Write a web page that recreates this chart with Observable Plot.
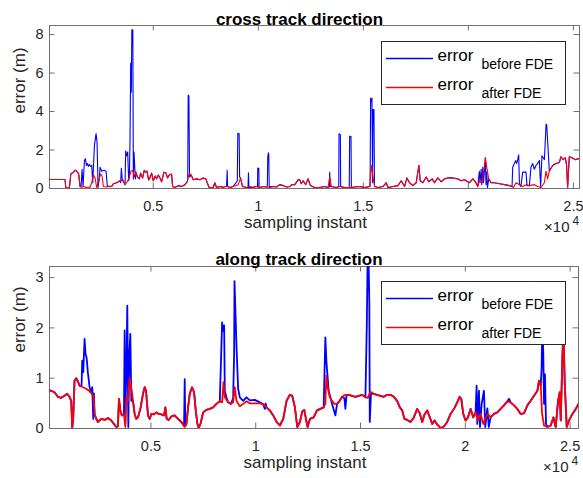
<!DOCTYPE html>
<html><head><meta charset="utf-8">
<script src="https://cdn.jsdelivr.net/npm/d3@7"></script>
<script src="https://cdn.jsdelivr.net/npm/@observablehq/plot@0.6"></script>
<style>
body{margin:0;background:#fff;}
#wrap{position:relative;width:583px;height:478px;overflow:hidden;font-family:"Liberation Sans",Arial,sans-serif;}
.pane{position:absolute;left:0;}
.legend{position:absolute;left:381px;}
</style></head><body><div id="wrap"></div>
<script>
// ---- data (sample index, error in m) ----
const crossAfter = [[60,0.47],[800,0.47],[835,0.05],[1010,0.05],[1075,0.75],[1200,0.85],[1295,0.95],[1390,0.85],[1450,0.75],[1516,0.1],[1600,0.06],[1700,0.1],[1800,0.05],[1900,0.08],[1991,0.06],[2070,0.3],[2150,0.7],[2230,0.55],[2308,0.05],[2435,0.55],[2500,0.75],[2560,0.65],[2625,0.1],[2784,0.08],[2900,0.12],[3020,0.1],[3100,0.25],[3259,0.3],[3417,0.4],[3544,0.45],[3655,0.2],[3766,0.35],[3861,0.6],[3940,0.9],[4019,0.95],[4098,0.6],[4177,0.85],[4240,0.6],[4335,0.5],[4399,0.8],[4494,0.55],[4573,0.95],[4637,0.85],[4700,0.9],[4779,0.45],[4843,0.55],[4922,0.8],[5001,0.4],[5096,0.65],[5159,0.5],[5238,0.7],[5318,0.55],[5397,0.35],[5508,0.85],[5603,0.8],[5682,0.55],[5761,0.7],[5872,0.75],[5919,0.1],[6030,0.05],[6189,0.15],[6347,0.1],[6506,0.2],[6617,0.35],[6712,0.8],[6807,0.7],[6902,0.45],[7060,0.5],[7219,0.45],[7377,0.55],[7504,0.5],[7567,0.3],[7662,0.05],[7852,0.05],[7931,0.3],[8010,0.05],[8170,0.1],[8330,0.06],[8490,0.12],[8646,0.05],[8804,0.1],[9042,0.2],[9153,0.55],[9248,0.1],[9438,0.05],[9600,0.1],[9755,0.06],[9900,0.1],[10072,0.05],[10230,0.1],[10389,0.08],[10550,0.05],[10706,0.1],[10870,0.08],[11023,0.2],[11181,0.15],[11340,0.08],[11498,0.1],[11600,0.2],[11736,0.2],[11894,0.45],[11973,0.45],[12050,0.25],[12132,0.4],[12258,0.2],[12369,0.5],[12480,0.15],[12686,0.05],[12924,0.05],[13161,0.1],[13320,0.05],[13399,0.6],[13478,0.1],[13716,0.05],[13874,0.1],[14112,0.05],[14349,0.05],[14587,0.08],[14824,0.1],[15060,0.05],[15300,0.1],[15395,1.2],[15458,0.6],[15537,0.1],[15696,0.05],[15933,0.1],[16092,0.3],[16171,0.05],[16408,0.1],[16646,0.15],[16804,0.4],[16963,0.1],[17074,0.55],[17200,0.3],[17359,0.15],[17517,0.3],[17644,1.2],[17707,0.4],[17834,0.3],[17992,0.6],[18119,0.35],[18277,0.5],[18388,0.3],[18547,0.55],[18705,0.35],[18864,0.5],[19022,0.55],[19260,0.55],[19497,0.5],[19656,0.4],[19814,0.45],[20052,0.3],[20210,0.5],[20337,0.35],[20448,0.1],[20559,0.5],[20654,0.3],[20811,1.6],[20875,1.1],[20970,0.5],[21081,0.3],[21240,0.3],[21478,0.25],[21715,0.2],[21953,0.15],[22142,0.05],[22269,0.3],[22428,0.2],[22586,0.1],[22744,0.2],[22903,0.15],[23140,0.2],[23299,0.1],[23457,0.05],[23616,0.3],[23695,0.9],[23774,0.5],[23853,0.9],[24012,1.2],[24170,1.3],[24328,1.35],[24408,1.65],[24519,1.5],[24614,1.6],[24677,1.2],[24725,0.05],[24804,1.65],[24930,1.6],[25090,1.5],[25250,1.55]];

const crossBefore = [[60,0.47],[800,0.47],[835,0.05],[1010,0.05],[1075,0.75],[1200,0.85],[1295,0.95],[1390,0.85],[1450,0.75],[1516,0.1],[1563,0.1],[1611,1.0],[1658,0.1],[1722,1.45],[1769,1.55],[1817,1.2],[1864,1.3],[1912,1.15],[1959,1.25],[2007,1.15],[2070,1.2],[2118,0.3],[2197,2.2],[2276,2.85],[2324,2.4],[2371,0.05],[2435,0.55],[2467,1.1],[2546,0.9],[2657,0.95],[2752,0.9],[2815,0.1],[2900,0.12],[3020,0.1],[3100,0.25],[3259,0.3],[3417,0.4],[3448,0.3],[3480,1.05],[3528,0.4],[3544,0.45],[3655,0.2],[3687,1.95],[3734,1.7],[3782,1.9],[3829,0.4],[3861,0.6],[3893,2.5],[3924,6.5],[3956,5.0],[3980,8.25],[4003,7.5],[4027,8.25],[4051,0.5],[4082,1.9],[4114,1.2],[4146,0.5],[4177,0.85],[4240,0.6],[4335,0.5],[4399,0.8],[4494,0.55],[4573,0.95],[4637,0.85],[4700,0.9],[4779,0.45],[4843,0.55],[4922,0.8],[5001,0.4],[5096,0.65],[5159,0.5],[5238,0.7],[5318,0.55],[5397,0.35],[5508,0.85],[5603,0.8],[5682,0.55],[5761,0.7],[5872,0.75],[5919,0.1],[6030,0.05],[6189,0.15],[6347,0.1],[6506,0.2],[6617,0.35],[6640,0.5],[6663,4.85],[6695,4.8],[6727,0.6],[6807,0.7],[6902,0.45],[7060,0.5],[7219,0.45],[7377,0.55],[7504,0.5],[7567,0.3],[7662,0.05],[7852,0.05],[7931,0.3],[8010,0.05],[8170,0.1],[8330,0.06],[8490,0.12],[8517,0.94],[8540,0.1],[8646,0.05],[8804,0.1],[9000,0.4],[9025,2.87],[9087,2.85],[9110,0.6],[9153,0.55],[9248,0.1],[9438,0.05],[9510,0.05],[9531,0.81],[9555,0.05],[9755,0.06],[9900,0.1],[9960,0.1],[9974,1.06],[10022,1.05],[10040,0.05],[10072,0.05],[10230,0.1],[10389,0.08],[10430,0.1],[10450,1.63],[10480,1.85],[10497,1.8],[10520,0.1],[10706,0.1],[10870,0.08],[11023,0.2],[11181,0.15],[11340,0.08],[11498,0.1],[11600,0.2],[11736,0.2],[11894,0.45],[11973,0.45],[12050,0.25],[12132,0.4],[12258,0.2],[12369,0.5],[12480,0.15],[12686,0.05],[12924,0.05],[13161,0.1],[13320,0.05],[13380,0.1],[13398,0.85],[13420,0.1],[13478,0.1],[13716,0.05],[13830,0.1],[13842,2.84],[13905,2.8],[13920,0.1],[14112,0.05],[14330,0.05],[14349,2.72],[14412,2.7],[14430,0.05],[14587,0.08],[14824,0.1],[15060,0.05],[15320,0.1],[15347,4.7],[15380,4.5],[15410,4.7],[15440,0.3],[15458,4.1],[15505,4.1],[15530,0.1],[15696,0.05],[15933,0.1],[16092,0.3],[16171,0.05],[16408,0.1],[16646,0.15],[16804,0.4],[16963,0.1],[17074,0.55],[17200,0.3],[17359,0.15],[17517,0.3],[17644,1.2],[17707,0.4],[17834,0.3],[17992,0.6],[18119,0.35],[18277,0.5],[18388,0.3],[18547,0.55],[18705,0.35],[18864,0.5],[19022,0.55],[19260,0.55],[19497,0.5],[19656,0.4],[19814,0.45],[20052,0.3],[20210,0.5],[20337,0.35],[20448,0.1],[20520,0.9],[20560,0.3],[20606,1.0],[20640,0.2],[20685,1.1],[20720,0.3],[20765,0.9],[20811,1.6],[20840,0.2],[20875,0.85],[20910,0.05],[20970,0.5],[21081,0.3],[21240,0.3],[21478,0.25],[21715,0.2],[21953,0.15],[22080,0.1],[22110,1.1],[22250,1.45],[22300,1.3],[22349,1.5],[22395,1.75],[22430,0.24],[22500,0.1],[22586,0.85],[22744,0.85],[22790,0.15],[22903,0.15],[22980,1.1],[23060,1.3],[23140,1.0],[23220,1.2],[23299,1.3],[23380,1.45],[23440,0.1],[23500,1.7],[23620,1.5],[23700,3.35],[23730,3.3],[23790,2.15],[23853,0.9],[24012,1.2],[24170,1.3],[24328,1.35],[24408,1.65],[24519,1.5],[24614,1.6],[24677,1.2],[24725,0.05],[24804,1.65],[24930,1.6],[25090,1.5],[25250,1.55]];

const alongAfter = [[160,0.76],[240,0.75],[400,0.72],[560,0.63],[718,0.61],[877,0.65],[1005,0.69],[1116,0.63],[1196,0.55],[1244,0],[1292,0.22],[1355,0.95],[1435,1.0],[1515,0.94],[1594,0.85],[1754,0.82],[1913,0.79],[2072,0.74],[2184,0.69],[2263,0.62],[2311,0.29],[2391,0.19],[2470,0.13],[2630,0.19],[2789,0.17],[2948,0.21],[3108,0.16],[3235,0.09],[3347,0.03],[3426,0.04],[3474,0.59],[3538,0.36],[3617,0.26],[3713,0.28],[3777,0.03],[3824,0.62],[3904,0.55],[3984,1.0],[4064,0.82],[4143,0.55],[4223,0.29],[4302,0.19],[4382,0.22],[4510,0.42],[4621,0.69],[4701,0.82],[4765,0.75],[4860,0.26],[4940,0.19],[5019,0.29],[5147,0.28],[5258,0.32],[5370,0.29],[5497,0.28],[5624,0.26],[5688,0.42],[5752,0.19],[5847,0.17],[5975,0.24],[6134,0.26],[6294,0.19],[6453,0.13],[6612,0.03],[6692,0.09],[6772,0.42],[6851,0.69],[6963,0.82],[7058,0.72],[7138,0.36],[7218,0.09],[7281,0.01],[7377,0.11],[7488,0.32],[7648,0.37],[7807,0.39],[7966,0.42],[8126,0.49],[8285,0.54],[8396,0.52],[8460,0.92],[8524,0.62],[8683,0.52],[8811,0.49],[8922,0.52],[9002,0.82],[9081,0.55],[9241,0.44],[9400,0.49],[9559,0.54],[9718,0.5],[9958,0.5],[10197,0.5],[10356,0.48],[10515,0.42],[10674,0.36],[10834,0.26],[10993,0.13],[11152,0.06],[11312,0.19],[11471,0.55],[11630,0.67],[11742,0.65],[11869,0.42],[11981,0.03],[12108,0.13],[12220,0.34],[12315,0.37],[12395,0.19],[12475,0.03],[12587,0.19],[12764,0.22],[12924,0.36],[13083,0.39],[13242,0.42],[13322,0.49],[13370,1.05],[13433,0.82],[13529,0.63],[13640,0.55],[13752,0.49],[13879,0.49],[14007,0.55],[14118,0.63],[14278,0.67],[14437,0.67],[14596,0.65],[14756,0.63],[14915,0.65],[15074,0.67],[15234,0.62],[15345,0.61],[15472,0.73],[15632,0.69],[15791,0.67],[15950,0.65],[16110,0.63],[16269,0.67],[16428,0.67],[16588,0.63],[16747,0.55],[16874,0.42],[16986,0.36],[17097,0.19],[17225,0.17],[17384,0.13],[17543,0.22],[17703,0.39],[17830,0.3],[17942,0.13],[18053,0.28],[18181,0.36],[18308,0.22],[18420,0.09],[18531,0.16],[18658,0.08],[18818,0.01],[18977,0.04],[19136,0.13],[19296,0.29],[19487,0.41],[19614,0.52],[19726,0.63],[19806,0.59],[19901,0.29],[20012,0.16],[20124,0.22],[20251,0.39],[20379,0.22],[20490,0.32],[20602,0.16],[20729,0.29],[20857,0.09],[20968,0.22],[21080,0.29],[21207,0.22],[21367,0.29],[21526,0.32],[21685,0.39],[21844,0.46],[22004,0.54],[22163,0.52],[22322,0.46],[22482,0.39],[22641,0.29],[22800,0.3],[22960,0.46],[23119,0.55],[23278,0.65],[23438,0.75],[23517,0.95],[23600,0.85],[23660,0.3],[23756,0.06],[23915,0.03],[24075,0.06],[24202,0.22],[24313,0.03],[24425,0.55],[24505,0.72],[24553,0.16],[24632,1.41],[24680,2.0],[24744,0.89],[24839,0.03],[24951,0.16],[25110,0.29],[25270,0.39],[25400,0.49]];

const alongBefore = [[160,0.76],[240,0.75],[400,0.72],[560,0.63],[718,0.61],[877,0.65],[1005,0.69],[1116,0.63],[1196,0.55],[1244,0],[1292,0.22],[1355,0.95],[1435,1.0],[1515,0.94],[1594,0.85],[1690,0.85],[1722,1.35],[1770,1.12],[1833,1.78],[1880,1.48],[1929,1.41],[1990,1.12],[2072,0.82],[2150,0.72],[2200,0.82],[2247,0.19],[2280,0.7],[2311,0.29],[2391,0.19],[2470,0.13],[2630,0.19],[2789,0.17],[2948,0.21],[3108,0.16],[3235,0.09],[3347,0.03],[3426,0.04],[3474,0.59],[3538,0.36],[3617,0.26],[3713,0.28],[3745,1.95],[3777,0.1],[3840,1.51],[3872,2.44],[3920,0.03],[3968,1.48],[4016,1.88],[4064,0.55],[4143,0.55],[4223,0.29],[4302,0.19],[4382,0.22],[4510,0.42],[4621,0.69],[4701,0.82],[4765,0.75],[4860,0.26],[4940,0.19],[5019,0.29],[5147,0.28],[5258,0.32],[5370,0.29],[5497,0.28],[5624,0.26],[5688,0.42],[5752,0.19],[5847,0.17],[5975,0.24],[6134,0.26],[6294,0.19],[6453,0.13],[6580,0.05],[6612,0.98],[6640,0.05],[6692,0.09],[6772,0.42],[6851,0.69],[6963,0.82],[7058,0.72],[7138,0.36],[7218,0.09],[7281,0.01],[7377,0.11],[7488,0.32],[7648,0.37],[7807,0.39],[7966,0.42],[8126,0.49],[8285,0.54],[8396,2.11],[8430,1.94],[8492,2.05],[8524,0.75],[8600,0.62],[8683,0.52],[8811,0.49],[8922,0.6],[8970,1.5],[8986,2.93],[9034,2.3],[9081,1.65],[9160,0.79],[9241,0.62],[9400,0.55],[9559,0.62],[9718,0.56],[9958,0.57],[10197,0.52],[10356,0.48],[10436,0.39],[10470,0.5],[10515,0.42],[10674,0.36],[10834,0.26],[10993,0.13],[11152,0.06],[11312,0.19],[11471,0.55],[11630,0.67],[11742,0.65],[11869,0.42],[11981,0.03],[12108,0.13],[12220,0.34],[12315,0.37],[12395,0.19],[12475,0.03],[12587,0.19],[12764,0.22],[12924,0.36],[13083,0.39],[13242,0.42],[13322,1.81],[13370,1.35],[13480,0.75],[13640,0.49],[13800,0.26],[13880,0.49],[14007,0.55],[14118,0.63],[14230,0.6],[14278,0.39],[14330,0.65],[14437,0.67],[14596,0.65],[14756,0.63],[14915,0.65],[15074,0.67],[15234,0.62],[15300,2.08],[15340,3.4],[15380,3.4],[15420,2.5],[15441,0.13],[15500,0.7],[15632,0.69],[15791,0.67],[15950,0.65],[16110,0.63],[16269,0.67],[16428,0.67],[16588,0.63],[16747,0.55],[16874,0.42],[16986,0.36],[17097,0.19],[17225,0.17],[17384,0.13],[17543,0.22],[17703,0.39],[17830,0.3],[17942,0.13],[18053,0.28],[18181,0.36],[18308,0.22],[18420,0.09],[18531,0.16],[18658,0.08],[18818,0.01],[18977,0.04],[19136,0.13],[19296,0.29],[19487,0.41],[19614,0.52],[19726,0.63],[19806,0.59],[19901,0.29],[20012,0.16],[20124,0.22],[20251,0.39],[20379,0.22],[20490,0.32],[20538,0.85],[20570,0.09],[20650,0.75],[20700,0.03],[20780,0.49],[20889,0.75],[20950,0.03],[21050,0.4],[21120,0.03],[21207,0.22],[21367,0.29],[21526,0.32],[21685,0.39],[21844,0.46],[22004,0.54],[22084,0.59],[22163,0.52],[22322,0.46],[22482,0.39],[22641,0.29],[22800,0.3],[22960,0.46],[23119,0.55],[23278,0.65],[23438,0.75],[23517,0.95],[23600,0.85],[23640,1.2],[23680,2.2],[23720,1.48],[23756,0.49],[23800,1.08],[23850,0.09],[23915,0.03],[24075,0.06],[24202,0.22],[24313,0.03],[24425,0.55],[24505,0.72],[24553,0.16],[24632,1.41],[24680,2.0],[24744,0.89],[24839,0.03],[24951,0.16],[25110,0.29],[25270,0.39],[25400,0.49]];

const xTickValues = [5000, 10000, 15000, 20000, 25000];
const crossYTicks = [0, 2, 4, 6, 8];
const alongYTicks = [0, 1, 2, 3];
const titles = ["cross track direction", "along track direction"];
const xLabel = "sampling instant";
const yLabel = "error (m)";
const seriesNames = ["before FDE", "after FDE"];
const seriesColors = ["#0000ff", "#ff0000"];

// ---- drawing ----
const FONT = '"Liberation Sans", Arial, Helvetica, sans-serif';
const AX = "#707070";
const W = 583, H = 239;

function panel(cfg) {
  const innerW = W - cfg.ml - cfg.mr;
  const innerH = H - cfg.mt - cfg.mb;
  const tick = 5.5;
  const X = d => d[0], Y = d => d[1];
  return Plot.plot({
    width: W, height: H,
    marginTop: cfg.mt, marginBottom: cfg.mb, marginLeft: cfg.ml, marginRight: cfg.mr,
    style: {fontFamily: FONT, fontSize: "14.5px", color: "#262626", background: "transparent", overflow: "visible"},
    x: {domain: cfg.xDomain, ticks: xTickValues, tickFormat: d => String(d / 1e4), tickSize: 0, tickPadding: 12, label: null},
    y: {domain: cfg.yDomain, ticks: cfg.yTicks, tickFormat: d => String(d), tickSize: 0, tickPadding: 6, label: null},
    marks: [
      Plot.frame({stroke: AX, strokeWidth: 1}),
      Plot.tickX(xTickValues, {x: d => d, stroke: AX, insetTop: innerH - tick}),
      Plot.tickX(xTickValues, {x: d => d, stroke: AX, insetBottom: innerH - tick}),
      Plot.tickY(cfg.yTicks, {y: d => d, stroke: AX, insetRight: innerW - tick}),
      Plot.tickY(cfg.yTicks, {y: d => d, stroke: AX, insetLeft: innerW - tick}),
      Plot.line(cfg.before, {x: X, y: Y, stroke: seriesColors[0], strokeWidth: cfg.sw, clip: true}),
      Plot.line(cfg.after, {x: X, y: Y, stroke: seriesColors[1], strokeWidth: cfg.sw, clip: true}),
      Plot.text([cfg.title], {text: d => d, frameAnchor: "top", dx: -15, dy: cfg.titleDy, fontWeight: "bold", fontSize: 17, fill: "#000"}),
      Plot.text([xLabel], {text: d => d, frameAnchor: "bottom", dx: -9, dy: 39, fontSize: 17, fill: "#262626"}),
      Plot.text([yLabel], {text: d => d, frameAnchor: "left", dx: -30, dy: cfg.yLabDy, rotate: -90, fontSize: 17, fill: "#262626"}),
      Plot.text(["\u00d710"], {text: d => d, frameAnchor: "bottom-right", textAnchor: "end", dx: -10, dy: 43, fontSize: 15, fill: "#262626"}),
      Plot.text(["4"], {text: d => d, frameAnchor: "bottom-right", textAnchor: "start", dx: -7, dy: 36.5, fontSize: 12, fill: "#262626"})
    ]
  });
}

function legend(top) {
  const d = document.createElement("div");
  d.className = "legend";
  d.style.top = top + "px";
  const rowY = [17.5, 46.5];
  let s = `<svg width="185" height="65" xmlns="http://www.w3.org/2000/svg" style="font-family:${FONT.replace(/"/g, "'")};display:block">`;
  s += `<rect x="0.5" y="0.5" width="184" height="63" fill="#fff" stroke="#262626" stroke-width="1"/>`;
  seriesNames.forEach((name, i) => {
    const y = rowY[i];
    s += `<line x1="5" x2="52" y1="${y}" y2="${y}" stroke="${seriesColors[i]}" stroke-width="1.3"/>`;
    s += `<text x="56.5" y="${y + 2.8}" font-size="17" fill="#000">error</text>`;
    s += `<text x="100.5" y="${y + 10.8}" font-size="14" fill="#000">${name}</text>`;
  });
  s += `</svg>`;
  d.innerHTML = s;
  return d;
}

const wrap = document.getElementById("wrap");
const p1 = panel({before: crossBefore, after: crossAfter, xDomain: [60, 25290], yDomain: [0, 8.47], yTicks: crossYTicks,
  mt: 25, mb: 51, ml: 49, mr: 4, sw: 1.1, title: titles[0], titleDy: -12.5, yLabDy: 6.5});
const p2 = panel({before: alongBefore, after: alongAfter, xDomain: [160, 25400], yDomain: [0, 3.22], yTicks: alongYTicks,
  mt: 27, mb: 50, ml: 49, mr: 5, sw: 1.8, title: titles[1], titleDy: -14, yLabDy: 5});
const d1 = document.createElement("div"); d1.className = "pane"; d1.style.top = "0px"; d1.appendChild(p1);
const d2 = document.createElement("div"); d2.className = "pane"; d2.style.top = "239px"; d2.appendChild(p2);
wrap.appendChild(d1);
wrap.appendChild(d2);
wrap.appendChild(legend(41));
wrap.appendChild(legend(281));
</script>
</body></html>
